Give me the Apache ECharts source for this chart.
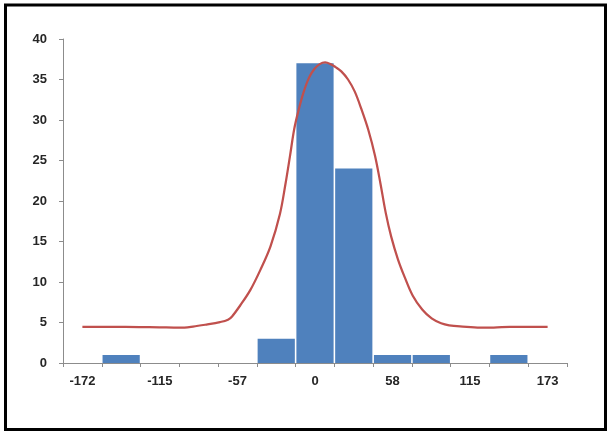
<!DOCTYPE html>
<html>
<head>
<meta charset="utf-8">
<script src="https://cdn.jsdelivr.net/npm/echarts@6/dist/echarts.min.js"></script>
<style>
html,body{margin:0;padding:0;background:#fff;}
#chart{width:609px;height:433px;}
</style>
</head>
<body>
<div id="chart"></div>
<script>
// Histogram bins (bin centres) and counts
var categories = ["-172","-143","-115","-86","-57","-29","0","29","58","86","115","144","173"];
var counts = [0, 1, 0, 0, 0, 3, 37, 24, 1, 1, 0, 1, 0];
// Fitted curve: x positions (data units) and values
var curveX = [-172,-150,-130,-115,-100,-90,-80,-70,-64,-61,-55,-47.5,-40,-32.5,-25.5,-21.5,-18,-15,-12,-8,-4,0,4,8,12,16,20,25,30,35,40,45,49,53,57,62,67,73,80,87,94,100,110,123,133,145,160,173];
var curveY = [4.45,4.45,4.44,4.40,4.36,4.5,4.75,5.05,5.35,5.75,7.1,9.0,11.5,14.4,18.4,22.0,25.6,28.8,31.0,33.4,35.2,36.3,36.9,37.1,36.9,36.5,36.0,35.0,33.5,31.3,28.8,25.6,22.2,18.5,15.6,12.8,10.6,8.3,6.6,5.5,4.9,4.65,4.5,4.38,4.38,4.45,4.45,4.45];
var yTicks = {min: 0, max: 40, interval: 5};
var binWidth = 28.75;

var curveData = curveX.map(function (x, i) { return [x, curveY[i]]; });

var chart = echarts.init(document.getElementById('chart'), null, {renderer: 'canvas'});
var labelStyle = {color: '#262626', fontFamily: 'Liberation Sans, Arial, sans-serif', fontWeight: 'bold', fontSize: 13};
chart.setOption({
  animation: false,
  backgroundColor: '#fff',
  grid: {left: 63, right: 42, top: 39, bottom: 70, containLabel: false},
  xAxis: [{
    type: 'category',
    data: categories,
    boundaryGap: true,
    axisLine: {onZero: false, lineStyle: {color: '#8c8c8c', width: 1}},
    axisTick: {show: true, interval: 0, alignWithLabel: false, length: 4, lineStyle: {color: '#8c8c8c'}},
    axisLabel: Object.assign({interval: 1, margin: 12}, labelStyle),
    splitLine: {show: false}
  }, {
    type: 'value',
    show: false,
    min: Number(categories[0]) - binWidth / 2,
    max: Number(categories[categories.length - 1]) + binWidth / 2
  }],
  yAxis: {
    type: 'value',
    min: yTicks.min, max: yTicks.max, interval: yTicks.interval,
    axisLine: {show: true, onZero: false, lineStyle: {color: '#8c8c8c', width: 1}},
    axisTick: {show: true, length: 4, lineStyle: {color: '#8c8c8c'}},
    axisLabel: Object.assign({margin: 16}, labelStyle),
    splitLine: {show: false}
  },
  graphic: [{
    type: 'rect',
    shape: {x: 5.5, y: 5, width: 600, height: 424.5},
    style: {fill: 'none', stroke: '#000', lineWidth: 3},
    silent: true
  }],
  series: [{
    type: 'bar',
    data: counts,
    barCategoryGap: '4%',
    itemStyle: {color: '#4F81BD'}
  }, {
    type: 'line',
    xAxisIndex: 1,
    data: curveData,
    smooth: 0.35,
    showSymbol: false,
    lineStyle: {color: '#C0504D', width: 2.25}
  }]
});
</script>
</body>
</html>
